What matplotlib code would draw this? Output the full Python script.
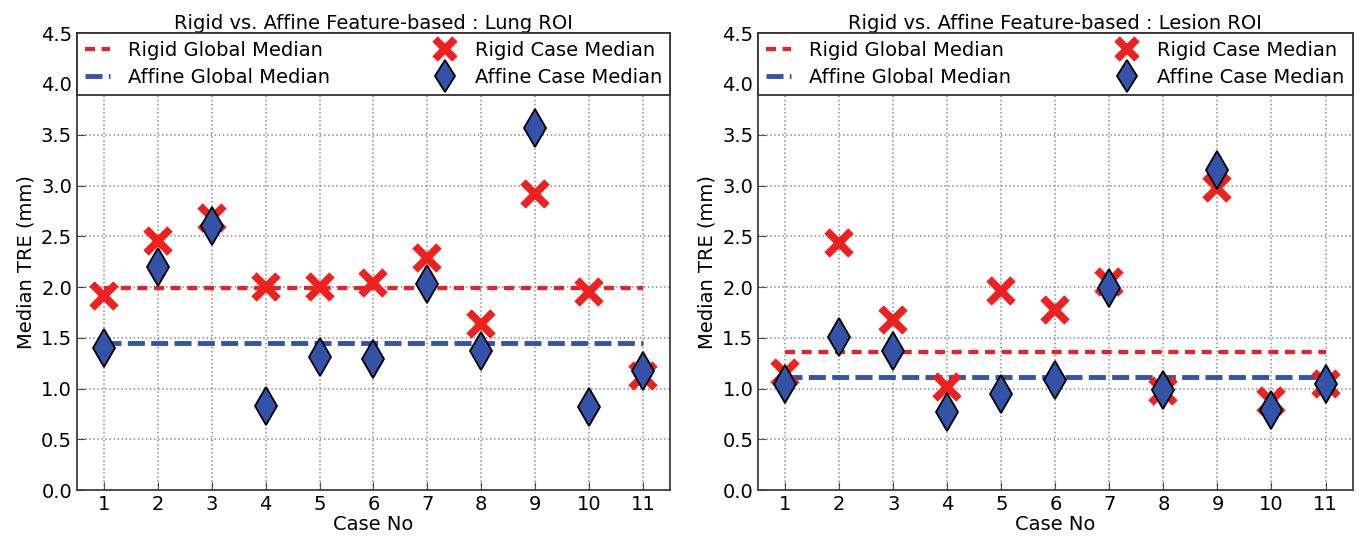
import numpy as np
import matplotlib
matplotlib.use('Agg')
import matplotlib.pyplot as plt

cases = np.arange(1, 12)

lung_rigid = [1.91, 2.45, 2.68, 2.00, 2.00, 2.04, 2.29, 1.64, 2.92, 1.95, 1.12]
lung_affine = [1.40, 2.20, 2.60, 0.83, 1.31, 1.29, 2.03, 1.37, 3.57, 0.82, 1.17]
lung_rigid_global = 1.99
lung_affine_global = 1.45

lesion_rigid = [1.15, 2.43, 1.68, 1.02, 1.96, 1.77, 2.05, 0.98, 2.98, 0.88, 1.05]
lesion_affine = [1.05, 1.51, 1.37, 0.77, 0.95, 1.08, 1.99, 0.99, 3.15, 0.79, 1.05]
lesion_rigid_global = 1.36
lesion_affine_global = 1.11

titles = ['Rigid vs. Affine Feature-based : Lung ROI',
          'Rigid vs. Affine Feature-based : Lesion ROI']

red = '#ee2020'
blue = '#3352a8'

plt.rcParams['font.family'] = 'DejaVu Sans'
plt.rcParams['font.size'] = 14

fig = plt.figure(figsize=(13.6, 5.44), dpi=100)
ax1 = fig.add_axes([0.0566, 0.099, 0.436, 0.840])
ax2 = fig.add_axes([0.5575, 0.099, 0.437, 0.840])

panels = [
    (ax1, lung_rigid, lung_affine, lung_rigid_global, lung_affine_global, titles[0]),
    (ax2, lesion_rigid, lesion_affine, lesion_rigid_global, lesion_affine_global, titles[1]),
]

for ax, rigid, affine, rg, ag, title in panels:
    l1, = ax.plot([cases[0], cases[-1]], [rg, rg], color=red, lw=3,
                  dashes=(2.4, 1.6), label='Rigid Global Median', zorder=2)
    l2, = ax.plot([cases[0], cases[-1]], [ag, ag], color=blue, lw=3.5,
                  dashes=(3.5, 1.3), label='Affine Global Median', zorder=2)
    m1, = ax.plot(cases, rigid, 'x', color=red, ms=17, mew=5.5,
                  label='Rigid Case Median', zorder=3)
    m2, = ax.plot(cases, affine, 'd', mfc=blue, mec='black', mew=1.3, ms=19,
                  label='Affine Case Median', zorder=4)

    ax.set_xlim(0.5, 11.5)
    ax.set_ylim(0, 4.5)
    ax.set_xticks(cases)
    ax.set_yticks(np.arange(0, 4.51, 0.5))
    ax.set_yticklabels([f'{v:.1f}' for v in np.arange(0, 4.51, 0.5)])
    ax.tick_params(direction='in', length=6, labelsize=14, color='0.3')
    ax.grid(True, color='0.55', linestyle=':', lw=1.1)
    ax.set_axisbelow(True)
    for s in ax.spines.values():
        s.set_color('0.25')
        s.set_linewidth(1.3)
    ax.set_xlabel('Case No', fontsize=14, labelpad=1)
    ax.set_ylabel('Median TRE (mm)', fontsize=14, labelpad=4)
    ax.set_title(title, fontsize=14, pad=3)

    leg = ax.legend(handles=[l1, l2, m1, m2], ncol=2, mode='expand',
                    loc='upper left', bbox_to_anchor=(0, 0, 1, 1),
                    borderaxespad=0, fontsize=14, numpoints=1, fancybox=False,
                    framealpha=1, handlelength=1.3, handletextpad=0.9,
                    labelspacing=0.4, borderpad=0.4, markerscale=0.85)
    leg.get_frame().set_edgecolor('0.2')
    leg.get_frame().set_linewidth(1.3)
    leg.set_zorder(10)

fig.savefig('out.png', dpi=100, facecolor='white')
